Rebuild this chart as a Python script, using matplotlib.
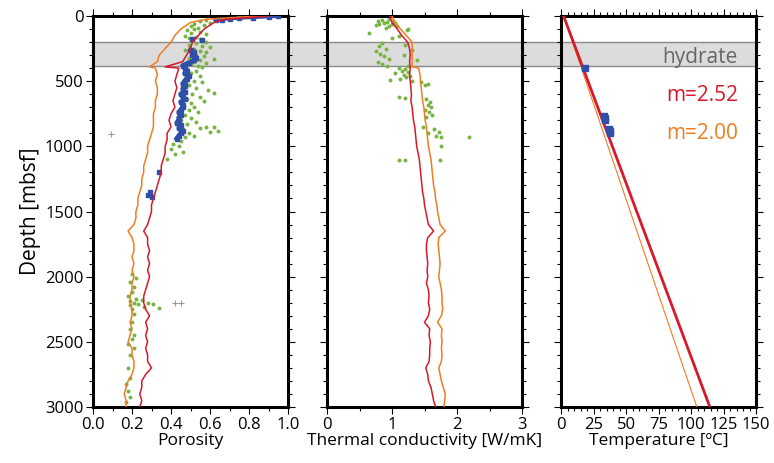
import matplotlib
matplotlib.use('Agg')
import matplotlib.pyplot as plt
from matplotlib.patches import Rectangle
from matplotlib.transforms import blended_transform_factory
from matplotlib.ticker import MultipleLocator

plt.rcParams['font.family'] = ['Open Sans', 'DejaVu Sans']

# ---- data ----
depth = [0, 25, 50, 100, 150, 200, 250, 300, 350, 390, 400, 450, 500, 550, 600, 650, 700,
         750, 800, 850, 900, 950, 1000, 1050, 1100, 1150, 1200, 1250, 1300, 1350,
         1400, 1450, 1500, 1550, 1600, 1650, 1700, 1750, 1800, 1850, 1900, 1950,
         2000, 2050, 2100, 2150, 2200, 2250, 2300, 2350, 2400, 2450, 2500, 2550,
         2600, 2650, 2700, 2750, 2800, 2850, 2900, 2950, 3000]

por_red = [0.90, 0.68, 0.62, 0.57, 0.54, 0.51, 0.50, 0.48, 0.46, 0.37, 0.44, 0.43, 0.42, 0.43,
           0.42, 0.41, 0.42, 0.40, 0.39, 0.40, 0.38, 0.38, 0.37, 0.37, 0.36, 0.35,
           0.35, 0.34, 0.33, 0.32, 0.31, 0.30, 0.30, 0.29, 0.28, 0.26, 0.28, 0.28,
           0.29, 0.28, 0.29, 0.28, 0.29, 0.28, 0.27, 0.26, 0.26, 0.27, 0.29, 0.27,
           0.28, 0.27, 0.28, 0.27, 0.28, 0.28, 0.30, 0.27, 0.25, 0.25, 0.24, 0.25, 0.24]

por_orange = [0.85, 0.58, 0.50, 0.45, 0.42, 0.40, 0.37, 0.34, 0.33, 0.29, 0.32, 0.33, 0.32, 0.33,
              0.33, 0.32, 0.32, 0.31, 0.31, 0.31, 0.30, 0.29, 0.28, 0.28, 0.27, 0.26,
              0.26, 0.25, 0.25, 0.24, 0.23, 0.23, 0.22, 0.22, 0.21, 0.18, 0.20, 0.21,
              0.21, 0.20, 0.21, 0.20, 0.21, 0.20, 0.20, 0.19, 0.19, 0.20, 0.20, 0.19,
              0.20, 0.19, 0.18, 0.20, 0.20, 0.21, 0.21, 0.20, 0.18, 0.17, 0.16, 0.17, 0.17]

tc_red = [0.97, 0.98, 1.00, 1.08, 1.15, 1.24, 1.27, 1.28, 1.27, 1.28, 1.28, 1.27, 1.28, 1.29,
          1.30, 1.29, 1.31, 1.32, 1.33, 1.35, 1.36, 1.37, 1.38, 1.40, 1.42, 1.43,
          1.44, 1.45, 1.46, 1.47, 1.49, 1.50, 1.52, 1.54, 1.56, 1.64, 1.55, 1.53,
          1.53, 1.54, 1.55, 1.54, 1.55, 1.53, 1.56, 1.57, 1.56, 1.58, 1.56, 1.50,
          1.58, 1.57, 1.59, 1.58, 1.58, 1.57, 1.52, 1.55, 1.56, 1.60, 1.62, 1.64, 1.67]

tc_orange = [1.00, 1.02, 1.05, 1.13, 1.22, 1.31, 1.31, 1.31, 1.31, 1.31, 1.41, 1.43, 1.44, 1.45,
             1.46, 1.47, 1.49, 1.50, 1.51, 1.53, 1.54, 1.55, 1.56, 1.58, 1.60, 1.61,
             1.62, 1.63, 1.64, 1.66, 1.67, 1.69, 1.70, 1.72, 1.74, 1.82, 1.72, 1.71,
             1.72, 1.73, 1.74, 1.73, 1.72, 1.74, 1.76, 1.77, 1.77, 1.78, 1.76, 1.70,
             1.77, 1.76, 1.77, 1.76, 1.77, 1.76, 1.72, 1.74, 1.76, 1.79, 1.82, 1.81, 1.80]

# core porosity (green)
core_por_d = [20, 30, 40, 50, 60, 70, 80, 90, 100, 110, 120, 130, 140, 150, 160, 170, 180, 190,
              200, 210, 220, 230, 240, 250, 260, 270, 280, 290, 300, 310, 320, 330, 340, 350,
              360, 370, 380, 390, 410, 420, 440, 460, 480, 500, 510, 530, 550, 570, 580, 590,
              600, 620, 640, 650, 670, 690, 700, 720, 740, 760, 780, 800, 810, 830, 850, 850,
              860, 870, 880, 890, 900, 910, 920, 930, 940, 960, 980, 1000, 1020, 1040, 1060, 1100,
              1980, 2010, 2040, 2080, 2120, 2150, 2170, 2180, 2190, 2200, 2200, 2210, 2210,
              2220, 2230, 2240, 2250, 2290, 2350, 2400, 2450, 2480, 2520, 2550, 2600, 2700,
              2780, 2820, 2880, 2920, 2960]
core_por = [0.62, 0.58, 0.55, 0.60, 0.52, 0.57, 0.50, 0.54, 0.52, 0.48, 0.55, 0.50, 0.58, 0.47,
            0.53, 0.49, 0.55, 0.51, 0.58, 0.53, 0.49, 0.56, 0.60, 0.52, 0.47, 0.55, 0.58, 0.50,
            0.53, 0.57, 0.49, 0.62, 0.55, 0.52, 0.58, 0.50, 0.54, 0.56, 0.48, 0.53, 0.50, 0.55,
            0.47, 0.52, 0.56, 0.49, 0.53, 0.59, 0.46, 0.62, 0.51, 0.55, 0.48, 0.57, 0.50, 0.46,
            0.52, 0.49, 0.54, 0.47, 0.50, 0.45, 0.53, 0.48, 0.58, 0.62, 0.55, 0.46, 0.64, 0.60,
            0.49, 0.44, 0.52, 0.47, 0.43, 0.45, 0.41, 0.44, 0.40, 0.46, 0.42, 0.38,
            0.20, 0.22, 0.19, 0.21, 0.20, 0.18, 0.22, 0.25, 0.19, 0.21, 0.28, 0.23, 0.31,
            0.19, 0.26, 0.34, 0.20, 0.21, 0.20, 0.19, 0.21, 0.20, 0.18, 0.21, 0.19, 0.18,
            0.19, 0.17, 0.18, 0.19, 0.17]

# log porosity (blue)
log_por_d = [3, 8, 13, 18, 23, 28, 33, 180, 185, 260, 280, 300, 320, 340, 360, 380, 400, 420,
             440, 460, 480, 500, 520, 540, 560, 580, 600, 620, 640, 660, 680, 700, 720,
             740, 760, 780, 800, 820, 840, 860, 880, 900, 920, 940, 1200, 1350, 1370, 1390]
log_por = [0.95, 0.90, 0.82, 0.75, 0.70, 0.66, 0.63, 0.51, 0.56, 0.50, 0.52, 0.51, 0.53, 0.52,
           0.49, 0.46, 0.47, 0.48, 0.47, 0.49, 0.48, 0.47, 0.46, 0.47, 0.46, 0.47, 0.45,
           0.46, 0.47, 0.45, 0.46, 0.46, 0.45, 0.44, 0.45, 0.44, 0.44, 0.43, 0.45, 0.44,
           0.46, 0.45, 0.44, 0.43, 0.34, 0.29, 0.28, 0.30]

# outlier porosity (gray +)
odd_por_d = [908, 2205, 2205]
odd_por = [0.09, 0.42, 0.45]

# core thermal conductivity (green)
core_tc_d = [20, 30, 35, 40, 45, 50, 55, 60, 65, 70, 75, 80, 90, 100, 108, 130, 150, 170,
             210, 230, 250, 270, 290, 310, 330, 350, 370, 385, 220, 260, 300, 340, 380,
             400, 410, 420, 430, 440, 450, 460, 470, 480, 490, 500, 510, 520, 530,
             620, 630, 640, 660, 680, 700, 720, 740, 760, 775, 850, 870, 890, 900, 920,
             930, 930, 1000, 1108, 1108, 1108]
core_tc = [0.95, 0.85, 1.02, 0.78, 0.92, 1.05, 0.88, 0.80, 1.00, 0.75, 0.95, 1.08, 0.90, 1.25,
           1.23, 0.65, 1.10, 1.00, 0.85, 0.80, 0.90, 0.75, 0.82, 0.88, 0.95, 0.78, 0.85,
           0.92, 1.20, 1.30, 1.18, 1.38, 1.25, 1.10, 1.20, 1.15, 1.25, 1.05, 1.18, 1.28,
           1.22, 1.12, 0.97, 1.30, 1.45, 1.55, 1.50, 1.10, 1.20, 1.52, 1.58, 1.55, 1.60,
           1.50, 1.57, 1.62, 1.53, 1.48, 1.65, 1.72, 1.55, 1.68, 1.75, 2.19, 1.76, 1.10,
           1.20, 1.74]

# temperature: fitted lines and measured points
temp_d = [0, 3000]
temp_red = [2.0, 114.5]
temp_orange = [2.0, 104.5]
temp_meas_d = [400, 765, 780, 800, 865, 885, 900]
temp_meas = [18.2, 32.8, 34.0, 34.2, 36.7, 37.4, 37.8]

hydrate_top, hydrate_bot = 200, 385

RED = '#d7192b'
ORANGE = '#ef7d22'
GREEN = '#79b443'
BLUE = '#2f4fa8'

fig = plt.figure(figsize=(7.74, 4.63), dpi=100)
ax1 = fig.add_axes([93 / 774, 1 - 407 / 463, 195 / 774, 391 / 463])
ax2 = fig.add_axes([327 / 774, 1 - 407 / 463, 195 / 774, 391 / 463])
ax3 = fig.add_axes([561 / 774, 1 - 407 / 463, 195 / 774, 391 / 463])

# porosity
ax1.scatter(core_por, core_por_d, s=8, color=GREEN, marker='o', lw=0, zorder=2)
ax1.plot(log_por, log_por_d, color=BLUE, lw=0, marker='s', ms=2.5, zorder=3)
ax1.plot(log_por[9:44], log_por_d[9:44], color=BLUE, lw=3.5, zorder=3)
ax1.plot(log_por[:7], log_por_d[:7], color=BLUE, lw=2, zorder=3)
ax1.plot(por_orange, depth, color=ORANGE, lw=1.1, zorder=4)
ax1.plot(por_red, depth, color=RED, lw=1.1, zorder=4)
ax1.scatter(odd_por, odd_por_d, s=14, color='#999999', marker='+', lw=0.8, zorder=2)
ax1.set_xlim(0, 1)
ax1.xaxis.set_major_locator(MultipleLocator(0.2))
ax1.xaxis.set_minor_locator(MultipleLocator(0.1))
ax1.set_xlabel('Porosity', fontsize=12.5, labelpad=0)
ax1.set_ylabel('Depth [mbsf]', fontsize=15, labelpad=3)
ax1.xaxis.set_major_formatter(plt.FuncFormatter(lambda v, p: '%.1f' % v))

# thermal conductivity
ax2.scatter(core_tc, core_tc_d, s=8, color=GREEN, marker='o', lw=0, zorder=2)
ax2.plot(tc_orange, depth, color=ORANGE, lw=1.1, zorder=4)
ax2.plot(tc_red, depth, color=RED, lw=1.1, zorder=4)
ax2.set_xlim(0, 3)
ax2.xaxis.set_major_locator(MultipleLocator(1))
ax2.xaxis.set_minor_locator(MultipleLocator(0.5))
ax2.set_xlabel('Thermal conductivity [W/mK]', fontsize=12.5, labelpad=0)

# temperature
ax3.plot(temp_orange, temp_d, color=ORANGE, lw=0.8, zorder=3)
ax3.plot(temp_red, temp_d, color=RED, lw=2, zorder=4)
ax3.plot(temp_meas, temp_meas_d, color=BLUE, lw=0, marker='s', ms=4, zorder=5)
ax3.set_xlim(0, 150)
ax3.xaxis.set_major_locator(MultipleLocator(25))
ax3.xaxis.set_minor_locator(MultipleLocator(5))
ax3.set_xlabel('Temperature [ºC]', fontsize=12.5, labelpad=0)
ax3.text(136, 315, 'hydrate', color='#666666', fontsize=15, ha='right', va='center')
ax3.text(136, 610, 'm=2.52', color=RED, fontsize=15, ha='right', va='center')
ax3.text(136, 900, 'm=2.00', color=ORANGE, fontsize=15, ha='right', va='center')

for ax in (ax1, ax2, ax3):
    ax.set_facecolor('none')
    ax.set_ylim(3000, 0)
    ax.yaxis.set_major_locator(MultipleLocator(500))
    ax.yaxis.set_minor_locator(MultipleLocator(100))
    ax.tick_params(which='both', direction='out', top=True, right=True, width=0.8,
                   labelsize=12, pad=2)
    ax.tick_params(which='major', length=5)
    ax.tick_params(which='minor', length=3)
    for s in ax.spines.values():
        s.set_linewidth(2.2)
    if ax is not ax1:
        ax.tick_params(labelleft=False)

# hydrate band across all panels
tr = blended_transform_factory(fig.transFigure, ax1.transData)
x0 = ax1.get_position().x0
x1 = ax3.get_position().x1
band = Rectangle((x0, hydrate_top), x1 - x0, hydrate_bot - hydrate_top, transform=tr,
                 facecolor='#dcdcdc', edgecolor='#8a8a8a', lw=1, zorder=-1)
fig.patches.append(band)

fig.savefig('out.png', dpi=100)
